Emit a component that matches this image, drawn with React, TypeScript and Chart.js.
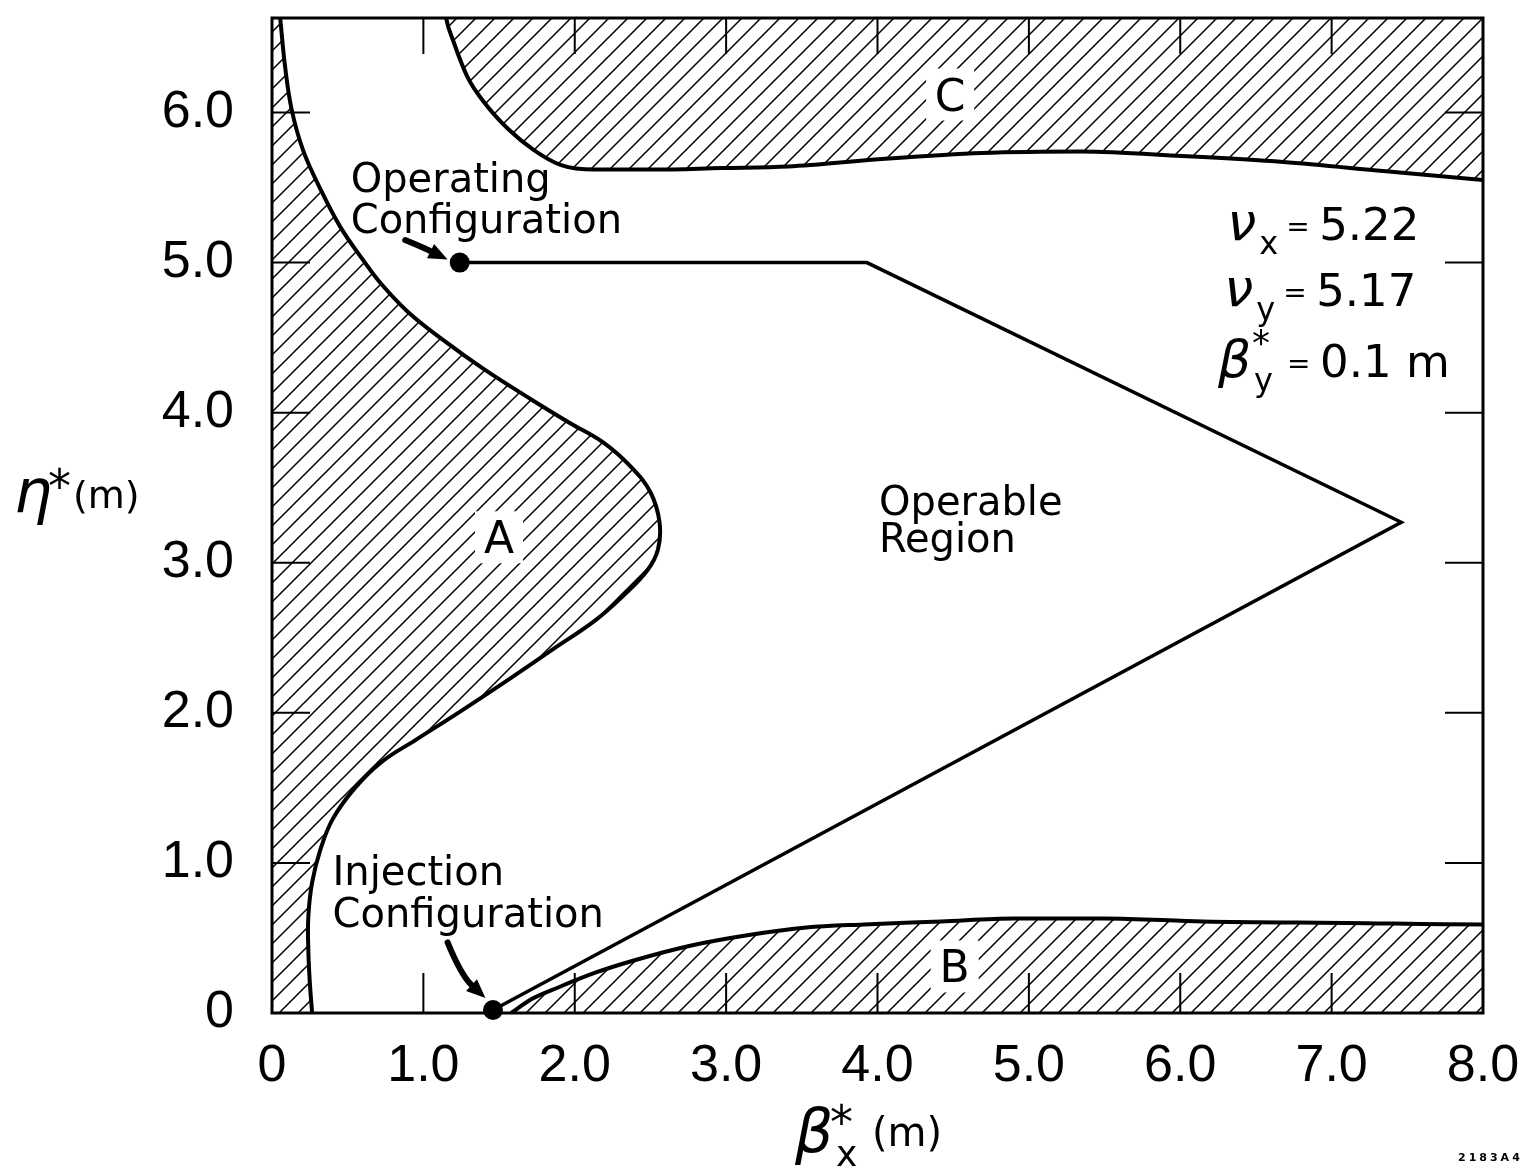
import React, { useEffect, useRef } from 'react';
import { Chart, registerables } from 'chart.js';

Chart.register(...registerables);

// ---------- axes ----------
const xTickValues = [0, 1, 2, 3, 4, 5, 6, 7, 8];
const xTickLabels = ['0', '1.0', '2.0', '3.0', '4.0', '5.0', '6.0', '7.0', '8.0'];
const yTickValues = [0, 1, 2, 3, 4, 5, 6];
const yTickLabels = ['0', '1.0', '2.0', '3.0', '4.0', '5.0', '6.0'];
const xMin = 0;
const xMax = 8;
const yMin = 0;
const yMax = 6.63;

// ---------- forbidden region A (left, x as a function of eta) ----------
const regionAX = [0.265, 0.25, 0.24, 0.24, 0.265, 0.32, 0.40, 0.54, 0.72, 0.95, 1.23, 1.53, 1.85, 2.14, 2.32, 2.48, 2.55, 2.56, 2.50, 2.37, 2.19, 1.97, 1.71, 1.40, 1.15, 0.90, 0.72, 0.60, 0.45, 0.32, 0.205, 0.13, 0.086, 0.053, 0.04];
const regionAY = [0.00, 0.20, 0.42, 0.64, 0.87, 1.09, 1.29, 1.49, 1.67, 1.82, 2.00, 2.20, 2.42, 2.62, 2.78, 2.95, 3.09, 3.27, 3.47, 3.64, 3.80, 3.93, 4.09, 4.29, 4.47, 4.67, 4.86, 5.02, 5.24, 5.49, 5.75, 6.02, 6.31, 6.64, 6.75];

// ---------- forbidden region B (bottom) ----------
const regionBX = [1.58, 1.71, 1.89, 2.14, 2.39, 2.77, 3.15, 3.53, 3.91, 4.42, 4.90, 5.50, 6.15, 7.10, 8.00, 8.10];
const regionBY = [0.00, 0.09, 0.17, 0.27, 0.35, 0.45, 0.52, 0.57, 0.59, 0.61, 0.63, 0.63, 0.61, 0.60, 0.59, 0.59];

// ---------- forbidden region C (top) ----------
const regionCX = [1.14, 1.15, 1.20, 1.29, 1.40, 1.56, 1.73, 1.91, 2.13, 2.52, 2.97, 3.41, 4.03, 4.69, 5.35, 6.01, 6.68, 7.34, 8.00, 8.10];
const regionCY = [6.70, 6.63, 6.47, 6.24, 6.07, 5.89, 5.75, 5.65, 5.62, 5.62, 5.63, 5.64, 5.69, 5.73, 5.74, 5.71, 5.67, 5.61, 5.55, 5.54];

// ---------- operable region outline ----------
const operableX = [1.24, 3.93, 7.46, 1.46];
const operableY = [5.0, 5.0, 3.27, 0.02];

// ---------- configurations (dots) ----------
const configX = [1.24, 1.46];
const configY = [5.0, 0.02];

// ---------- region letters ----------
const hatchLabels = ['A', 'B', 'C'];
const hatchLabelX = [1.50, 4.51, 4.48];
const hatchLabelY = [3.17, 0.31, 6.12];

// ---------- notes ----------
const noteLines = ['Operating', 'Configuration', 'Injection', 'Configuration', 'Operable', 'Region'];
const noteX = [0.52, 0.52, 0.40, 0.40, 4.01, 4.01];
const noteY = [5.47, 5.20, 0.85, 0.57, 3.32, 3.07];

// ---------- arrows (tail, control, head) ----------
const arrowTailX = [0.88, 1.16];
const arrowTailY = [5.15, 0.47];
const arrowCtrlX = [1.02, 1.25];
const arrowCtrlY = [5.09, 0.25];
const arrowHeadX = [1.16, 1.41];
const arrowHeadY = [5.02, 0.10];

// ---------- parameter block ----------
const paramSymbols = ['ν', 'ν', 'β'];
const paramSubs = ['x', 'y', 'y'];
const paramSups = ['', '', '*'];
const paramValues = ['5.22', '5.17', '0.1 m'];
const paramX = [6.31, 6.29, 6.25];
const paramY = [5.15, 4.71, 4.24];

const FONT = '"DejaVu Sans", "Liberation Sans", sans-serif';

function pts(xs: number[], ys: number[]) {
  return xs.map((x, i) => ({ x, y: ys[i] }));
}

function makeHatch(ctx: CanvasRenderingContext2D): CanvasPattern | string {
  const s = 19;
  const c = document.createElement('canvas');
  c.width = s;
  c.height = s;
  const g = c.getContext('2d');
  if (!g) return '#ccc';
  g.strokeStyle = '#000';
  g.lineWidth = 1.5;
  g.beginPath();
  g.moveTo(-2, s + 2);
  g.lineTo(s + 2, -2);
  g.moveTo(-3, 3);
  g.lineTo(3, -3);
  g.moveTo(s - 3, s + 3);
  g.lineTo(s + 3, s - 3);
  g.stroke();
  return ctx.createPattern(c, 'repeat') || '#ccc';
}

function zeroPadding(s: any) {
  s.paddingTop = 0;
  s.paddingBottom = 0;
  s.paddingLeft = 0;
  s.paddingRight = 0;
}

const decorPlugin = {
  id: 'decor',
  afterDraw(chart: any) {
    const { ctx, chartArea: a } = chart;
    const xs = chart.scales.x;
    const ys = chart.scales.y;
    const px = (v: number) => xs.getPixelForValue(v);
    const py = (v: number) => ys.getPixelForValue(v);
    ctx.save();
    ctx.fillStyle = '#000';
    ctx.strokeStyle = '#000';
    ctx.textAlign = 'left';
    ctx.textBaseline = 'alphabetic';

    // region letters with white knock-out boxes
    hatchLabels.forEach((t, i) => {
      const cx = px(hatchLabelX[i]);
      const cy = py(hatchLabelY[i]);
      ctx.fillStyle = '#fff';
      ctx.fillRect(cx - 24, cy - 26, 48, 52);
      ctx.fillStyle = '#000';
      ctx.font = `44px ${FONT}`;
      ctx.textAlign = 'center';
      ctx.fillText(t, cx, cy + 16);
    });
    ctx.textAlign = 'left';

    // frame
    ctx.lineWidth = 3;
    ctx.strokeRect(a.left, a.top, a.right - a.left, a.bottom - a.top);

    // inward ticks on all four sides
    ctx.lineWidth = 2;
    ctx.beginPath();
    xTickValues.forEach((v) => {
      if (v <= xMin || v >= xMax) return;
      const x = px(v);
      ctx.moveTo(x, a.top);
      ctx.lineTo(x, a.top + 36);
      ctx.moveTo(x, a.bottom);
      ctx.lineTo(x, a.bottom - 40);
    });
    yTickValues.forEach((v) => {
      if (v <= yMin || v >= yMax) return;
      const y = py(v);
      ctx.moveTo(a.left, y);
      ctx.lineTo(a.left + 38, y);
      ctx.moveTo(a.right, y);
      ctx.lineTo(a.right - 38, y);
    });
    ctx.stroke();

    // notes
    ctx.font = `40px ${FONT}`;
    noteLines.forEach((t, i) => {
      ctx.fillText(t, px(noteX[i]), py(noteY[i]));
    });

    // arrows
    arrowTailX.forEach((_, i) => {
      const x0 = px(arrowTailX[i]);
      const y0 = py(arrowTailY[i]);
      const xc = px(arrowCtrlX[i]);
      const yc = py(arrowCtrlY[i]);
      const x1 = px(arrowHeadX[i]);
      const y1 = py(arrowHeadY[i]);
      const ang = Math.atan2(y1 - yc, x1 - xc);
      const hl = 19;
      const hw = 8;
      const bx = x1 - hl * Math.cos(ang);
      const by = y1 - hl * Math.sin(ang);
      ctx.lineWidth = 6;
      ctx.lineCap = 'round';
      ctx.beginPath();
      ctx.moveTo(x0, y0);
      ctx.quadraticCurveTo(xc, yc, bx, by);
      ctx.stroke();
      ctx.beginPath();
      ctx.moveTo(x1, y1);
      ctx.lineTo(bx + hw * Math.sin(ang), by - hw * Math.cos(ang));
      ctx.lineTo(bx - hw * Math.sin(ang), by + hw * Math.cos(ang));
      ctx.closePath();
      ctx.fill();
    });

    // parameter block
    paramSymbols.forEach((sym, i) => {
      const x = px(paramX[i]);
      const y = py(paramY[i]);
      ctx.font = `italic 52px ${FONT}`;
      ctx.fillText(sym, x, y);
      const so = sym === 'β' ? 36 : 32;
      if (paramSups[i]) {
        ctx.font = `36px ${FONT}`;
        ctx.fillText(paramSups[i], x + so - 2, y - 22);
      }
      ctx.font = `32px ${FONT}`;
      ctx.fillText(paramSubs[i], x + so, y + 14);
      ctx.font = `28px ${FONT}`;
      ctx.fillText('=', x + (sym === 'β' ? 69 : 59), y - 4);
      ctx.font = `45px ${FONT}`;
      ctx.fillText(paramValues[i], x + (sym === 'β' ? 102 : 92), y);
    });

    // y-axis title  η*(m)
    ctx.font = `italic 60px ${FONT}`;
    ctx.fillText('η', 14, 512);
    ctx.font = `46px ${FONT}`;
    ctx.fillText('*', 48, 502);
    ctx.font = `38px ${FONT}`;
    ctx.fillText('(m)', 73, 508);

    // x-axis title  β*x (m)
    ctx.font = `italic 60px ${FONT}`;
    ctx.fillText('β', 795, 1152);
    ctx.font = `46px ${FONT}`;
    ctx.fillText('*', 830, 1138);
    ctx.font = `36px ${FONT}`;
    ctx.fillText('x', 836, 1166);
    ctx.font = `40px ${FONT}`;
    ctx.fillText('(m)', 872, 1146);

    // figure id
    ctx.font = `bold 11px ${FONT}`;
    (ctx as any).letterSpacing = '3px';
    ctx.fillText('2183A4', 1458, 1161);
    (ctx as any).letterSpacing = '0px';

    ctx.restore();
  },
};

export default function App() {
  const ref = useRef<HTMLCanvasElement | null>(null);

  useEffect(() => {
    const canvas = ref.current;
    if (!canvas) return;
    const ctx2d = canvas.getContext('2d');
    if (!ctx2d) return;
    const hatch = makeHatch(ctx2d);
    const curve = {
      borderColor: '#000',
      borderWidth: 4,
      pointRadius: 0,
      cubicInterpolationMode: 'monotone',
      backgroundColor: hatch,
    };
    const chart = new Chart(canvas, {
      type: 'line',
      data: {
        datasets: [
          {
            label: 'configurations',
            data: pts(configX, configY),
            showLine: false,
            pointRadius: 10,
            pointBackgroundColor: '#000',
            pointBorderWidth: 0,
            clip: false,
          } as any,
          {
            label: 'operable',
            data: pts(operableX, operableY),
            borderColor: '#000',
            borderWidth: 3.5,
            pointRadius: 0,
            tension: 0,
            fill: false,
          },
          {
            label: 'A',
            data: pts(regionAX, regionAY),
            indexAxis: 'y',
            fill: { value: 0 },
            ...curve,
            cubicInterpolationMode: 'default',
            tension: 0.4,
          } as any,
          { label: 'B', data: pts(regionBX, regionBY), fill: 'start', ...curve } as any,
          { label: 'C', data: pts(regionCX, regionCY), fill: 'end', ...curve } as any,
        ],
      },
      options: {
        animation: false,
        responsive: false,
        maintainAspectRatio: false,
        devicePixelRatio: 1,
        events: [],
        layout: { padding: { top: 18, right: 44, left: 0, bottom: 0 } },
        plugins: { legend: { display: false }, tooltip: { enabled: false } },
        scales: {
          x: {
            type: 'linear',
            min: xMin,
            max: xMax,
            grid: { display: false, drawTicks: false },
            border: { display: false },
            afterBuildTicks: (s: any) => {
              s.ticks = xTickValues.map((v) => ({ value: v }));
            },
            afterFit: (s: any) => {
              s.height = 158;
              zeroPadding(s);
            },
            ticks: {
              padding: 22,
              color: '#000',
              maxRotation: 0,
              autoSkip: false,
              font: { family: 'Liberation Sans', size: 52 },
              callback: (v: any) => xTickLabels[xTickValues.indexOf(Number(v))] ?? '',
            },
          },
          y: {
            type: 'linear',
            min: yMin,
            max: yMax,
            grid: { display: false, drawTicks: false },
            border: { display: false },
            afterBuildTicks: (s: any) => {
              s.ticks = yTickValues.map((v) => ({ value: v }));
            },
            afterFit: (s: any) => {
              s.width = 272;
              zeroPadding(s);
            },
            ticks: {
              padding: 38,
              color: '#000',
              autoSkip: false,
              font: { family: 'Liberation Sans', size: 52 },
              callback: (v: any) => yTickLabels[yTickValues.indexOf(Number(v))] ?? '',
            },
          },
        },
      } as any,
      plugins: [decorPlugin],
    });
    return () => chart.destroy();
  }, []);

  return (
    <div style={{ position: 'absolute', left: 0, top: 0, width: 1527, height: 1171, background: '#fff' }}>
      <canvas ref={ref} width={1527} height={1171} style={{ display: 'block' }} />
    </div>
  );
}
